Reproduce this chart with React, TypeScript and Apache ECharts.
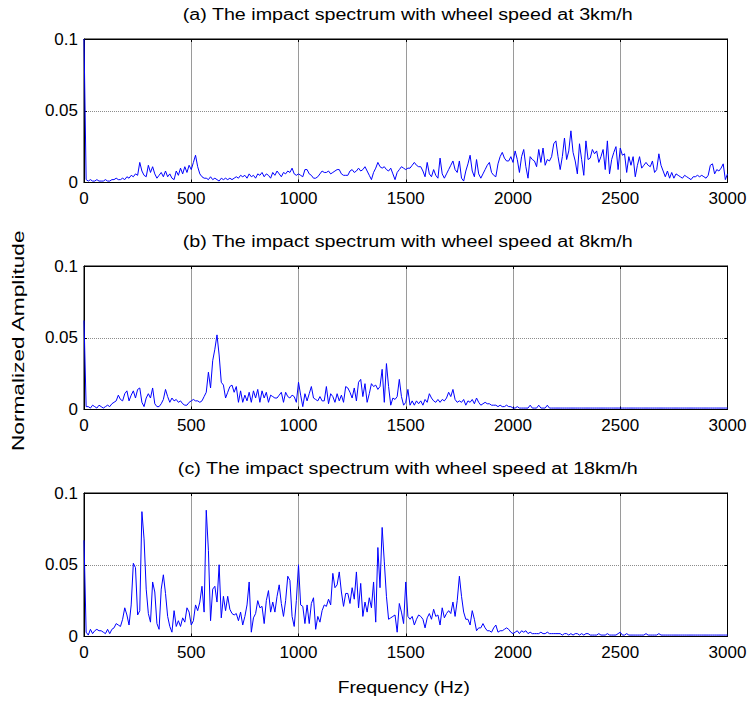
import React, { useEffect, useRef } from "react";
import * as echarts from "echarts";

// Spectral bins are 10 Hz apart, starting at 0 Hz and ending at 3000 Hz.
const FREQ_STEP_HZ = 10;

const panelTitles = [
  "(a) The impact spectrum with wheel speed at 3km/h",
  "(b) The impact spectrum with wheel speed at 8km/h",
  "(c) The impact spectrum with wheel speed at 18km/h",
];

const xTicks = [0, 500, 1000, 1500, 2000, 2500, 3000];
const yTicks = [0, 0.05, 0.1];

// Normalized amplitude, 3 km/h (one row = 100 Hz)
const amp3kmh = [
  0.100, 0.002, 0.001, 0.002, 0.001, 0.001, 0.002, 0.001, 0.001, 0.001,
  0.002, 0.001, 0.001, 0.002, 0.002, 0.003, 0.002, 0.002, 0.003, 0.002,
  0.004, 0.003, 0.005, 0.004, 0.006, 0.005, 0.014, 0.008, 0.005, 0.004,
  0.012, 0.007, 0.011, 0.006, 0.003, 0.005, 0.007, 0.004, 0.008, 0.004,
  0.006, 0.003, 0.002, 0.008, 0.005, 0.010, 0.006, 0.011, 0.007, 0.012,
  0.009, 0.014, 0.019, 0.011, 0.006, 0.004, 0.003, 0.003, 0.002, 0.004,
  0.002, 0.003, 0.002, 0.001, 0.003, 0.002, 0.003, 0.002, 0.003, 0.002,
  0.003, 0.004, 0.003, 0.005, 0.004, 0.005, 0.003, 0.006, 0.004, 0.005,
  0.003, 0.006, 0.005, 0.007, 0.004, 0.006, 0.005, 0.003, 0.007, 0.005,
  0.008, 0.006, 0.004, 0.007, 0.006, 0.008, 0.007, 0.010, 0.006, 0.005,
  0.006, 0.005, 0.004, 0.009, 0.009, 0.006, 0.005, 0.003, 0.003, 0.004,
  0.006, 0.008, 0.007, 0.007, 0.008, 0.006, 0.007, 0.008, 0.009, 0.009,
  0.006, 0.005, 0.005, 0.005, 0.008, 0.009, 0.007, 0.008, 0.010, 0.008,
  0.009, 0.011, 0.008, 0.005, 0.002, 0.007, 0.010, 0.014, 0.011, 0.010,
  0.011, 0.009, 0.008, 0.010, 0.006, 0.002, 0.007, 0.009, 0.011, 0.010,
  0.009, 0.010, 0.010, 0.012, 0.014, 0.012, 0.011, 0.011, 0.008, 0.004,
  0.014, 0.006, 0.004, 0.009, 0.005, 0.003, 0.017, 0.006, 0.003, 0.006,
  0.009, 0.012, 0.015, 0.009, 0.007, 0.015, 0.003, 0.001, 0.008, 0.013,
  0.019, 0.008, 0.004, 0.016, 0.006, 0.003, 0.006, 0.009, 0.012, 0.014,
  0.007, 0.005, 0.004, 0.013, 0.018, 0.021, 0.017, 0.015, 0.015, 0.018,
  0.014, 0.022, 0.016, 0.007, 0.018, 0.023, 0.011, 0.003, 0.018, 0.016,
  0.015, 0.011, 0.023, 0.014, 0.024, 0.012, 0.016, 0.015, 0.018, 0.027,
  0.029, 0.018, 0.009, 0.018, 0.031, 0.016, 0.022, 0.036, 0.021, 0.015,
  0.006, 0.027, 0.016, 0.005, 0.029, 0.016, 0.017, 0.023, 0.020, 0.022,
  0.014, 0.018, 0.023, 0.009, 0.029, 0.006, 0.016, 0.021, 0.025, 0.009,
  0.024, 0.019, 0.020, 0.007, 0.018, 0.012, 0.018, 0.004, 0.012, 0.018,
  0.010, 0.012, 0.014, 0.012, 0.011, 0.015, 0.007, 0.009, 0.020, 0.012,
  0.008, 0.004, 0.008, 0.003, 0.007, 0.003, 0.006, 0.005, 0.004, 0.003,
  0.005, 0.004, 0.003, 0.002, 0.004, 0.004, 0.005, 0.004, 0.005, 0.004,
  0.003, 0.005, 0.012, 0.013, 0.006, 0.009, 0.008, 0.010, 0.013, 0.002,
  0.006,
];

// Normalized amplitude, 8 km/h
const amp8kmh = [
  0.062, 0.002, 0.002, 0.001, 0.003, 0.002, 0.001, 0.003, 0.002, 0.001,
  0.002, 0.003, 0.002, 0.004, 0.005, 0.006, 0.010, 0.007, 0.006, 0.011,
  0.013, 0.006, 0.010, 0.013, 0.008, 0.014, 0.015, 0.005, 0.002, 0.008,
  0.011, 0.008, 0.015, 0.004, 0.002, 0.002, 0.004, 0.007, 0.014, 0.009,
  0.005, 0.008, 0.006, 0.007, 0.005, 0.006, 0.004, 0.003, 0.003, 0.005,
  0.006, 0.007, 0.006, 0.006, 0.005, 0.006, 0.009, 0.012, 0.026, 0.015,
  0.034, 0.042, 0.052, 0.038, 0.019, 0.017, 0.008, 0.012, 0.016, 0.017,
  0.012, 0.016, 0.005, 0.013, 0.005, 0.010, 0.006, 0.012, 0.005, 0.013,
  0.008, 0.014, 0.005, 0.013, 0.008, 0.012, 0.005, 0.010, 0.009, 0.008,
  0.008, 0.010, 0.012, 0.005, 0.012, 0.009, 0.008, 0.010, 0.009, 0.005,
  0.019, 0.010, 0.002, 0.011, 0.006, 0.011, 0.016, 0.008, 0.007, 0.006,
  0.009, 0.006, 0.006, 0.016, 0.004, 0.011, 0.009, 0.005, 0.011, 0.006,
  0.010, 0.005, 0.016, 0.015, 0.012, 0.008, 0.015, 0.006, 0.019, 0.021,
  0.009, 0.018, 0.005, 0.011, 0.018, 0.016, 0.017, 0.014, 0.016, 0.028,
  0.005, 0.032, 0.016, 0.003, 0.008, 0.007, 0.009, 0.021, 0.009, 0.003,
  0.005, 0.014, 0.003, 0.006, 0.003, 0.006, 0.004, 0.006, 0.003, 0.007,
  0.005, 0.011, 0.008, 0.006, 0.005, 0.007, 0.005, 0.007, 0.006, 0.008,
  0.012, 0.009, 0.014, 0.007, 0.005, 0.006, 0.005, 0.007, 0.003, 0.006,
  0.005, 0.007, 0.004, 0.008, 0.005, 0.003, 0.004, 0.005, 0.004, 0.004,
  0.003, 0.003, 0.003, 0.002, 0.003, 0.002, 0.002, 0.003, 0.002, 0.002,
  0.001, 0.001, 0.002, 0.001, 0.001, 0.001, 0.001, 0.001, 0.003, 0.001,
  0.001, 0.001, 0.003, 0.001, 0.001, 0.001, 0.003, 0.001, 0.001, 0.001,
  0.001, 0.001, 0.001, 0.001, 0.001, 0.001, 0.001, 0.001, 0.001, 0.001,
  0.001, 0.001, 0.001, 0.001, 0.001, 0.001, 0.001, 0.001, 0.001, 0.001,
  0.001, 0.001, 0.001, 0.001, 0.001, 0.001, 0.001, 0.001, 0.001, 0.001,
  0.001, 0.001, 0.001, 0.001, 0.001, 0.001, 0.001, 0.001, 0.001, 0.001,
  0.001, 0.001, 0.001, 0.001, 0.001, 0.001, 0.001, 0.001, 0.001, 0.001,
  0.001, 0.001, 0.001, 0.001, 0.001, 0.001, 0.001, 0.001, 0.001, 0.001,
  0.001, 0.001, 0.001, 0.001, 0.001, 0.001, 0.001, 0.001, 0.001, 0.001,
  0.001, 0.001, 0.001, 0.001, 0.001, 0.001, 0.001, 0.001, 0.001, 0.001,
  0.001,
];

// Normalized amplitude, 18 km/h
const amp18kmh = [
  0.067, 0.003, 0.001, 0.005, 0.002, 0.004, 0.005, 0.004, 0.004, 0.003,
  0.002, 0.005, 0.002, 0.005, 0.006, 0.009, 0.008, 0.007, 0.012, 0.020,
  0.015, 0.008, 0.022, 0.051, 0.048, 0.015, 0.018, 0.087, 0.068, 0.033,
  0.016, 0.010, 0.038, 0.031, 0.009, 0.005, 0.033, 0.043, 0.030, 0.014,
  0.007, 0.003, 0.018, 0.007, 0.011, 0.007, 0.013, 0.010, 0.020, 0.017,
  0.008, 0.011, 0.022, 0.018, 0.024, 0.035, 0.017, 0.088, 0.060, 0.011,
  0.033, 0.035, 0.024, 0.050, 0.013, 0.028, 0.018, 0.028, 0.019, 0.016,
  0.015, 0.016, 0.011, 0.017, 0.008, 0.014, 0.022, 0.038, 0.003, 0.013,
  0.016, 0.025, 0.020, 0.021, 0.009, 0.025, 0.032, 0.017, 0.024, 0.017,
  0.028, 0.036, 0.023, 0.014, 0.025, 0.042, 0.039, 0.014, 0.007, 0.025,
  0.050, 0.022, 0.021, 0.009, 0.022, 0.009, 0.023, 0.027, 0.005, 0.014,
  0.010, 0.018, 0.022, 0.021, 0.026, 0.022, 0.044, 0.034, 0.036, 0.045,
  0.031, 0.021, 0.030, 0.030, 0.023, 0.034, 0.026, 0.045, 0.020, 0.037,
  0.014, 0.024, 0.017, 0.027, 0.020, 0.038, 0.010, 0.062, 0.034, 0.076,
  0.052, 0.028, 0.012, 0.013, 0.014, 0.015, 0.003, 0.023, 0.017, 0.009,
  0.038, 0.014, 0.012, 0.014, 0.008, 0.012, 0.015, 0.014, 0.012, 0.006,
  0.013, 0.016, 0.012, 0.019, 0.014, 0.015, 0.008, 0.020, 0.013, 0.016,
  0.018, 0.016, 0.024, 0.014, 0.025, 0.042, 0.028, 0.017, 0.012, 0.012,
  0.008, 0.018, 0.012, 0.004, 0.006, 0.006, 0.009, 0.006, 0.004, 0.004,
  0.003, 0.006, 0.008, 0.003, 0.004, 0.004, 0.005, 0.006, 0.005, 0.003,
  0.002, 0.003, 0.004, 0.002, 0.004, 0.003, 0.004, 0.002, 0.003, 0.002,
  0.002, 0.002, 0.002, 0.003, 0.002, 0.002, 0.003, 0.002, 0.002, 0.002,
  0.002, 0.002, 0.002, 0.001, 0.002, 0.002, 0.001, 0.002, 0.001, 0.002,
  0.002, 0.001, 0.002, 0.001, 0.002, 0.002, 0.001, 0.001, 0.001, 0.001,
  0.002, 0.001, 0.001, 0.001, 0.002, 0.001, 0.001, 0.001, 0.001, 0.002,
  0.003, 0.001, 0.001, 0.002, 0.001, 0.001, 0.001, 0.001, 0.001, 0.001,
  0.001, 0.001, 0.002, 0.001, 0.001, 0.001, 0.001, 0.001, 0.002, 0.001,
  0.001, 0.001, 0.001, 0.001, 0.001, 0.001, 0.001, 0.001, 0.001, 0.001,
  0.001, 0.001, 0.001, 0.001, 0.001, 0.001, 0.001, 0.001, 0.001, 0.001,
  0.001, 0.001, 0.001, 0.001, 0.001, 0.001, 0.001, 0.001, 0.001, 0.001,
  0.001,
];

const spectra = [amp3kmh, amp8kmh, amp18kmh];

// Layout (px)
const PLOT_LEFT = 84;
const PLOT_WIDTH = 643.5;
const PLOT_HEIGHT = 143.5;
const PLOT_TOPS = [39, 266, 493];
const TITLE_OFFSET = 24;

const FONT = "Liberation Sans";

function buildOption(): echarts.EChartsOption {
  // The grid border supplies the closed box around each panel.
  const grid = PLOT_TOPS.map((top) => ({
    show: true,
    left: PLOT_LEFT,
    top,
    width: PLOT_WIDTH,
    height: PLOT_HEIGHT,
    borderColor: "#000",
    borderWidth: 1,
    backgroundColor: "transparent",
    z: 1,
  }));

  const frameLine = { show: true, onZero: false, lineStyle: { color: "#000", width: 1 } };
  const innerTick = { show: true, inside: true, length: 3, lineStyle: { color: "#000", width: 1 } };

  const xAxis: any[] = [];
  const yAxis: any[] = [];
  spectra.forEach((_, i) => {
    const xBase = {
      gridIndex: i,
      type: "value",
      min: xTicks[0],
      max: xTicks[xTicks.length - 1],
      interval: xTicks[1] - xTicks[0],
      axisLine: frameLine,
      axisTick: innerTick,
    };
    xAxis.push({
      ...xBase,
      position: "bottom",
      axisLabel: {
        color: "#000",
        fontSize: 17,
        fontFamily: FONT,
        margin: 7,
        formatter: (v: number) => String(v),
      },
      splitLine: {
        show: true,
        showMinLine: false,
        showMaxLine: false,
        lineStyle: { color: "#9a9a9a", width: 1 },
      },
    });
    xAxis.push({ ...xBase, position: "top", axisLabel: { show: false }, splitLine: { show: false } });

    const yBase = {
      gridIndex: i,
      type: "value",
      min: yTicks[0],
      max: yTicks[yTicks.length - 1],
      interval: yTicks[1] - yTicks[0],
      axisLine: frameLine,
      axisTick: innerTick,
    };
    yAxis.push({
      ...yBase,
      position: "left",
      axisLabel: {
        color: "#000",
        fontSize: 17,
        fontFamily: FONT,
        margin: 6,
        formatter: (v: number) => String(Math.round(v * 100) / 100),
      },
      splitLine: {
        show: true,
        showMinLine: false,
        showMaxLine: false,
        lineStyle: { color: "#8c8c8c", width: 1, type: [1, 1] },
      },
    });
    yAxis.push({ ...yBase, position: "right", axisLabel: { show: false }, splitLine: { show: false } });
  });

  const series = spectra.map((amp, i) => ({
    type: "line" as const,
    xAxisIndex: 2 * i,
    yAxisIndex: 2 * i,
    data: amp.map((v, k) => [k * FREQ_STEP_HZ, v]),
    showSymbol: false,
    symbol: "none",
    clip: true,
    silent: true,
    lineStyle: { color: "#0000ff", width: 1 },
    z: 3,
  }));

  const textStyle = (text: string, size: number) => ({
    text,
    font: `${size}px "${FONT}"`,
    fill: "#000",
    textAlign: "center",
    textVerticalAlign: "middle",
    align: "center",
    verticalAlign: "middle",
  });

  const centerX = PLOT_LEFT + PLOT_WIDTH / 2;
  const graphic: any[] = panelTitles.map((text, i) => ({
    type: "text",
    x: centerX + 2,
    y: PLOT_TOPS[i] - TITLE_OFFSET,
    scaleX: 1.23,
    silent: true,
    style: textStyle(text, 16),
  }));
  graphic.push({
    type: "text",
    x: centerX - 2,
    y: 688,
    scaleX: 1.2,
    silent: true,
    style: textStyle("Frequency (Hz)", 16),
  });
  graphic.push({
    type: "text",
    x: 18,
    y: PLOT_TOPS[1] + PLOT_HEIGHT / 2 + 3,
    rotation: Math.PI / 2,
    scaleX: 1.42,
    silent: true,
    style: textStyle("Normalized Amplitude", 16),
  });

  return {
    animation: false,
    backgroundColor: "#fff",
    grid,
    xAxis,
    yAxis,
    series,
    graphic,
  };
}

export default function App() {
  const ref = useRef<HTMLDivElement>(null);
  useEffect(() => {
    if (!ref.current) return;
    const chart = echarts.init(ref.current, undefined, { renderer: "svg" });
    chart.setOption(buildOption());
    return () => chart.dispose();
  }, []);
  return (
    <div
      ref={ref}
      style={{ position: "absolute", left: 0, top: 0, width: 752, height: 703, background: "#fff" }}
    />
  );
}
